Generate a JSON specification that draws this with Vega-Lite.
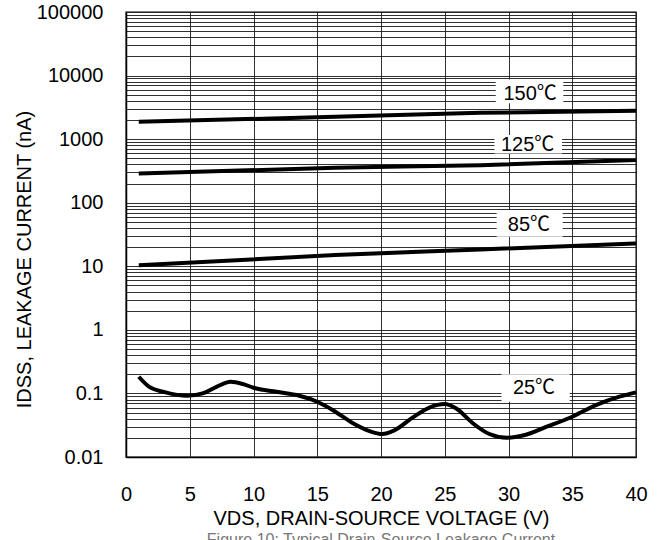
{
  "$schema": "https://vega.github.io/schema/vega-lite/v6.json",
  "width": 510,
  "height": 445,
  "autosize": "none",
  "padding": {"left": 126, "top": 12, "right": 34, "bottom": 83},
  "background": "white",
  "config": {
    "font": "Liberation Sans",
    "view": {"stroke": "#555", "strokeWidth": 1.5},
    "axis": {
      "labelFont": "Liberation Sans",
      "titleFont": "Liberation Sans",
      "labelFontSize": 20,
      "titleFontSize": 20,
      "labelColor": "#000",
      "titleColor": "#000",
      "titleFontWeight": "normal",
      "gridColor": "#1a1a1a",
      "gridWidth": 0.9,
      "gridOpacity": 1,
      "domainColor": "#000",
      "domainWidth": 1.5,
      "ticks": false,
      "tickSize": 0
    }
  },
  "title": {
    "text": "Figure 10: Typical Drain-Source Leakage Current",
    "orient": "bottom",
    "anchor": "middle",
    "fontSize": 16,
    "fontWeight": "normal",
    "font": "Liberation Sans",
    "color": "#777",
    "offset": 4
  },
  "datasets": {
    "curves": [
      {"series": "150", "v": 1, "i": 1871},
      {"series": "150", "v": 16.4, "i": 2244},
      {"series": "150", "v": 27.8, "i": 2594},
      {"series": "150", "v": 40, "i": 2786},
      {"series": "125", "v": 1, "i": 289},
      {"series": "125", "v": 16.4, "i": 354},
      {"series": "125", "v": 27.8, "i": 390},
      {"series": "125", "v": 40, "i": 468},
      {"series": "85", "v": 1, "i": 10.4},
      {"series": "85", "v": 16.4, "i": 15.0},
      {"series": "85", "v": 27.8, "i": 18.4},
      {"series": "85", "v": 40, "i": 22.9},
      {"series": "25", "v": 1, "i": 0.183},
      {"series": "25", "v": 1.8, "i": 0.128},
      {"series": "25", "v": 3.1, "i": 0.104},
      {"series": "25", "v": 4.8, "i": 0.092},
      {"series": "25", "v": 6.0, "i": 0.1},
      {"series": "25", "v": 7.1, "i": 0.127},
      {"series": "25", "v": 8.2, "i": 0.153},
      {"series": "25", "v": 9.2, "i": 0.14},
      {"series": "25", "v": 10, "i": 0.123},
      {"series": "25", "v": 11.8, "i": 0.106},
      {"series": "25", "v": 13.6, "i": 0.092},
      {"series": "25", "v": 15, "i": 0.074},
      {"series": "25", "v": 16.2, "i": 0.055},
      {"series": "25", "v": 17.8, "i": 0.034},
      {"series": "25", "v": 19.1, "i": 0.0256},
      {"series": "25", "v": 20.1, "i": 0.023},
      {"series": "25", "v": 21, "i": 0.026},
      {"series": "25", "v": 22.5, "i": 0.042},
      {"series": "25", "v": 23.8, "i": 0.06},
      {"series": "25", "v": 25, "i": 0.068},
      {"series": "25", "v": 25.9, "i": 0.058},
      {"series": "25", "v": 27.2, "i": 0.034},
      {"series": "25", "v": 28.5, "i": 0.023},
      {"series": "25", "v": 29.9, "i": 0.0201},
      {"series": "25", "v": 31.2, "i": 0.022},
      {"series": "25", "v": 33, "i": 0.03},
      {"series": "25", "v": 35, "i": 0.043},
      {"series": "25", "v": 36.9, "i": 0.066},
      {"series": "25", "v": 38.7, "i": 0.089},
      {"series": "25", "v": 40, "i": 0.104}
    ],
    "labels": [
      {"label": "150℃", "x0": 29.0, "x1": 34.3, "y0": 3680, "y1": 8690, "xt": 31.7, "yt": 5100},
      {"label": "125℃", "x0": 28.9, "x1": 34.2, "y0": 596, "y1": 1157, "xt": 31.5, "yt": 805},
      {"label": "85℃", "x0": 29.07, "x1": 34.25, "y0": 29.1, "y1": 76.5, "xt": 31.6, "yt": 44.5},
      {"label": "25℃", "x0": 29.45, "x1": 34.8, "y0": 0.074, "y1": 0.2, "xt": 32.0, "yt": 0.122}
    ]
  },
  "layer": [
    {
      "data": {"name": "labels"},
      "mark": {"type": "rect", "fill": "white", "stroke": null},
      "encoding": {
        "x": {
          "field": "x0", "type": "quantitative",
          "scale": {"domain": [0, 40], "nice": false, "zero": false},
          "axis": {
            "values": [0, 5, 10, 15, 20, 25, 30, 35, 40],
            "title": "VDS, DRAIN-SOURCE VOLTAGE (V)",
            "grid": true,
            "labelPadding": 27,
            "titlePadding": 4,
            "labelFlush": false
          }
        },
        "x2": {"field": "x1"},
        "y": {
          "field": "y0", "type": "quantitative",
          "scale": {"type": "log", "domain": [0.01, 100000], "nice": false},
          "axis": {
            "values": [0.01, 0.02, 0.03, 0.04, 0.05, 0.06, 0.07, 0.08, 0.09,
                       0.1, 0.2, 0.3, 0.4, 0.5, 0.6, 0.7, 0.8, 0.9,
                       1, 2, 3, 4, 5, 6, 7, 8, 9,
                       10, 20, 30, 40, 50, 60, 70, 80, 90,
                       100, 200, 300, 400, 500, 600, 700, 800, 900,
                       1000, 2000, 3000, 4000, 5000, 6000, 7000, 8000, 9000,
                       10000, 20000, 30000, 40000, 50000, 60000, 70000, 80000, 90000,
                       100000],
            "labelExpr": "abs(log(datum.value)/LN10 - round(log(datum.value)/LN10)) < 0.001 ? format(datum.value, '~g') : ''",
            "labelOverlap": false,
            "labelFlush": false,
            "labelBaseline": "middle",
            "title": "IDSS, LEAKAGE CURRENT (nA)",
            "grid": true,
            "labelPadding": 23,
            "titlePadding": 2,
            "titleY": 247
          }
        },
        "y2": {"field": "y1"}
      }
    },
    {
      "data": {"name": "labels"},
      "mark": {"type": "text", "fontSize": 20, "font": "Liberation Sans, Noto Sans CJK JP", "color": "#000", "align": "center", "baseline": "middle"},
      "encoding": {
        "x": {"field": "xt", "type": "quantitative"},
        "y": {"field": "yt", "type": "quantitative"},
        "text": {"field": "label"}
      }
    },
    {
      "data": {"name": "curves"},
      "mark": {"type": "line", "interpolate": "monotone", "color": "#000", "strokeWidth": 4, "strokeCap": "butt"},
      "encoding": {
        "x": {"field": "v", "type": "quantitative"},
        "y": {"field": "i", "type": "quantitative"},
        "detail": {"field": "series"}
      }
    }
  ]
}
